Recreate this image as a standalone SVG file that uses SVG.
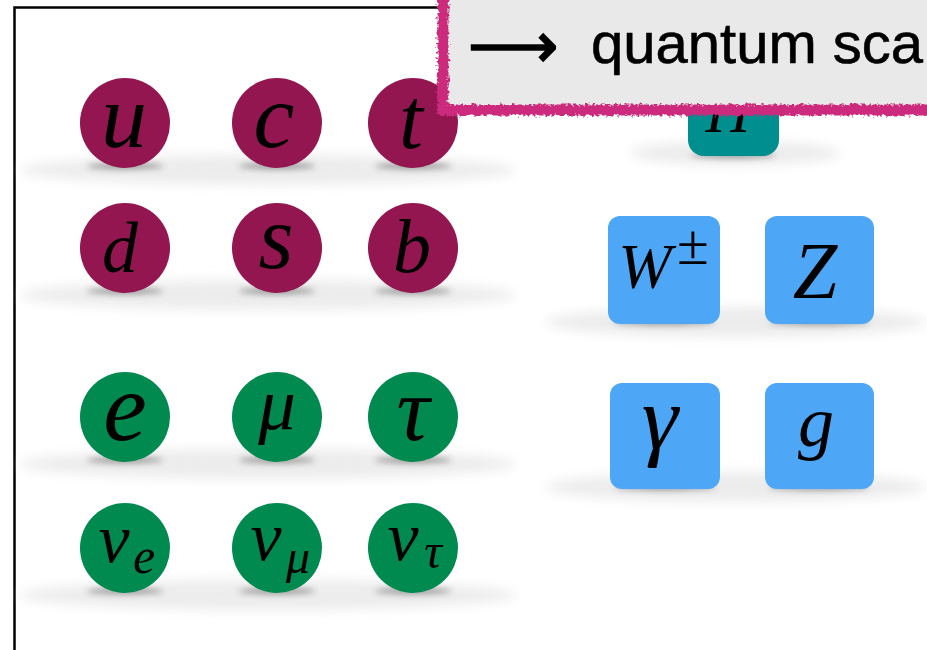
<svg xmlns="http://www.w3.org/2000/svg" width="927" height="650" viewBox="0 0 927 650">
<defs>
<filter id="blurWide" x="-20%" y="-100%" width="140%" height="300%"><feGaussianBlur stdDeviation="6"/></filter>
<filter id="blurDark" x="-30%" y="-200%" width="160%" height="500%"><feGaussianBlur stdDeviation="3"/></filter>
<filter id="rough" x="-5%" y="-20%" width="110%" height="140%">
<feTurbulence type="fractalNoise" baseFrequency="0.35" numOctaves="2" seed="3" result="n"/>
<feDisplacementMap in="SourceGraphic" in2="n" scale="7" xChannelSelector="R" yChannelSelector="G"/>
</filter>
<style>
.quark{fill:#931650}
.lepton{fill:#008A4F}
.boson{fill:#4DA7F6}
.higgs{fill:#008E8E}
.lbl{font-family:"Liberation Serif","DejaVu Serif",serif;font-style:italic;fill:#000;text-anchor:middle}
.wide{fill:#ececec;filter:url(#blurWide)}
.dark{fill:#444;opacity:0.55;filter:url(#blurDark)}
.callout-text{font-family:"Liberation Sans",Arial,sans-serif;fill:#000}
</style>
</defs>
<rect width="927" height="650" fill="#fff"/>
<g id="frame"><path d="M14.5 650 V7.5 H445" fill="none" stroke="#000" stroke-width="2.5"/></g>

<g id="shadows">
<ellipse class="wide" cx="268" cy="170" rx="248" ry="15"/>
<ellipse class="wide" cx="268" cy="295" rx="248" ry="15"/>
<ellipse class="wide" cx="268" cy="464" rx="248" ry="15"/>
<ellipse class="wide" cx="268" cy="595" rx="248" ry="15"/>
<ellipse class="wide" cx="735" cy="153" rx="105" ry="12"/>
<ellipse class="wide" cx="736" cy="322" rx="190" ry="15"/>
<ellipse class="wide" cx="736" cy="487" rx="190" ry="15"/>
<ellipse class="dark" cx="125" cy="166" rx="38" ry="3"/>
<ellipse class="dark" cx="277" cy="166" rx="38" ry="3"/>
<ellipse class="dark" cx="413" cy="166" rx="38" ry="3"/>
<ellipse class="dark" cx="125" cy="291" rx="38" ry="3"/>
<ellipse class="dark" cx="277" cy="291" rx="38" ry="3"/>
<ellipse class="dark" cx="413" cy="291" rx="38" ry="3"/>
<ellipse class="dark" cx="125" cy="460" rx="38" ry="3"/>
<ellipse class="dark" cx="277" cy="460" rx="38" ry="3"/>
<ellipse class="dark" cx="413" cy="460" rx="38" ry="3"/>
<ellipse class="dark" cx="125" cy="591" rx="38" ry="3"/>
<ellipse class="dark" cx="277" cy="591" rx="38" ry="3"/>
<ellipse class="dark" cx="413" cy="591" rx="38" ry="3"/>
<ellipse class="dark" cx="733" cy="155" rx="42" ry="3"/>
<ellipse class="dark" cx="664" cy="322" rx="50" ry="3"/>
<ellipse class="dark" cx="819" cy="322" rx="50" ry="3"/>
<ellipse class="dark" cx="665" cy="487" rx="50" ry="3"/>
<ellipse class="dark" cx="819" cy="487" rx="50" ry="3"/>
</g>

<g id="node-u"><circle class="quark" cx="125" cy="123" r="45"/><text class="lbl" x="124" y="147" font-size="92">u</text></g>
<g id="node-c"><circle class="quark" cx="277" cy="123" r="45"/><text class="lbl" x="274" y="147" font-size="92">c</text></g>
<g id="node-t"><circle class="quark" cx="413" cy="123" r="45"/><text class="lbl" x="411" y="148" font-size="86">t</text></g>
<g id="node-d"><circle class="quark" cx="125" cy="248" r="45"/><text class="lbl" x="120" y="272" font-size="72">d</text></g>
<g id="node-s"><circle class="quark" cx="277" cy="248" r="45"/><text class="lbl" x="276" y="268" font-size="90">s</text></g>
<g id="node-b"><circle class="quark" cx="413" cy="248" r="45"/><text class="lbl" x="412" y="272" font-size="76">b</text></g>

<g id="node-e"><circle class="lepton" cx="125" cy="417" r="45"/><text class="lbl" x="125" y="440" font-size="98">e</text></g>
<g id="node-mu"><circle class="lepton" cx="277" cy="417" r="45"/><text class="lbl" x="277" y="429" font-size="75">μ</text></g>
<g id="node-tau"><circle class="lepton" cx="413" cy="417" r="45"/><text class="lbl" x="413" y="440" font-size="92">τ</text></g>
<g id="node-nu-e"><circle class="lepton" cx="125" cy="548" r="45"/><text class="lbl" x="114" y="562" font-size="70">ν</text><text class="lbl" x="144" y="573" font-size="50">e</text></g>
<g id="node-nu-mu"><circle class="lepton" cx="277" cy="548" r="45"/><text class="lbl" x="266" y="560" font-size="70">ν</text><text class="lbl" x="298" y="573" font-size="48">μ</text></g>
<g id="node-nu-tau"><circle class="lepton" cx="413" cy="548" r="45"/><text class="lbl" x="403" y="560" font-size="70">ν</text><text class="lbl" x="433" y="568" font-size="50">τ</text></g>

<g id="node-H"><rect class="higgs" x="688" y="50" width="91" height="106" rx="16"/><text class="lbl" x="728" y="132" font-size="62">H</text></g>
<g id="node-W"><rect class="boson" x="608" y="216" width="112" height="108" rx="12"/><text class="lbl" x="645" y="288" font-size="64">W</text><text class="lbl" x="693" y="264" font-size="58" style="font-style:normal">±</text></g>
<g id="node-Z"><rect class="boson" x="765" y="216" width="109" height="108" rx="12"/><text class="lbl" x="815" y="298" font-size="80">Z</text></g>
<g id="node-gamma"><rect class="boson" x="610" y="383" width="110" height="106" rx="12"/><text class="lbl" x="660" y="449" font-size="92">γ</text></g>
<g id="node-g"><rect class="boson" x="765" y="383" width="109" height="106" rx="12"/><text class="lbl" x="816" y="446" font-size="72">g</text></g>

<g id="connectors"></g>

<g id="callout">
<rect x="443" y="-20" width="500" height="130" fill="#E9E9E9"/>
<rect x="443" y="-20" width="500" height="130" fill="none" stroke="#CC2A7B" stroke-width="11" filter="url(#rough)"/>
<text class="callout-text" x="468" y="67" font-size="63" stroke="#000" stroke-width="1.6">⟶</text>
<text class="callout-text" x="591" y="63" font-size="58" stroke="#000" stroke-width="0.6">quantum sca</text>
</g>
</svg>
